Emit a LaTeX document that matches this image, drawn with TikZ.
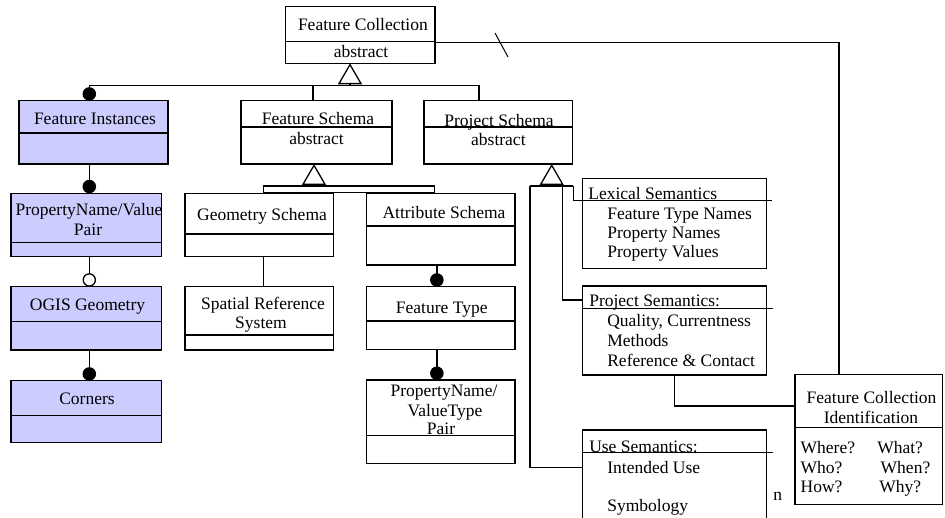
\documentclass[tikz,border=0pt]{standalone}
\usepackage{fontspec}
\setmainfont{Liberation Serif}
\usetikzlibrary{arrows.meta}
\definecolor{instfill}{RGB}{204,204,255}
% horizontal rule across a class box, #2 pt below its top edge
\newcommand\cbdiv[2]{\draw[wire] ([yshift=-#2pt]#1.north west) -- ([yshift=-#2pt]#1.north east);}
\begin{document}
\begin{tikzpicture}[x=1pt,y=-1pt,
  every node/.style={font=\fontsize{17.5}{20}\selectfont},
  wire/.style={line width=1.3pt, line join=miter},
  umlbox/.style={draw, line width=1.3pt, inner sep=0pt, outer sep=0pt, anchor=north west},
  inst/.style={umlbox, fill=instfill},
  lbl/.style={inner sep=0pt, outer sep=0pt, anchor=base},
  lbll/.style={inner sep=0pt, outer sep=0pt, anchor=base west},
  dot/.style={-{Circle[length=13.5pt]}},
  ring/.style={-{Circle[open,length=13.5pt]}},
  gen/.style={-{Triangle[open,length=21pt,width=24pt]}},
]
\useasboundingbox (0,0) rectangle (945,518);
\fill[white] (0,0) rectangle (945,518);
\clip (0,0) rectangle (945,518);

% ---- class boxes ----
\node[umlbox, minimum width=149.3pt, minimum height=56.6pt] (fc) at (285.7,6.7) {};
\node[inst,   minimum width=149pt,   minimum height=63.3pt] (fi) at (19,100.7) {};
\node[umlbox, minimum width=151pt,   minimum height=63.3pt] (fs) at (241,100.7) {};
\node[umlbox, minimum width=148.7pt, minimum height=63.3pt] (ps) at (424,100.7) {};
\node[inst,   minimum width=150.7pt, minimum height=63.4pt] (pnvp) at (11,193.3) {};
\node[inst,   minimum width=150.7pt, minimum height=63.3pt] (ogis) at (11,286.7) {};
\node[inst,   minimum width=150.7pt, minimum height=62pt]   (corners) at (11,380.7) {};
\node[umlbox, minimum width=148.3pt, minimum height=63.4pt] (gs) at (185,193.3) {};
\node[umlbox, minimum width=148.3pt, minimum height=63.3pt] (srs) at (185,286.7) {};
\node[umlbox, minimum width=148.3pt, minimum height=71.7pt] (as) at (366.7,193.3) {};
\node[umlbox, minimum width=148.3pt, minimum height=62.6pt] (ft) at (366.7,286.7) {};
\node[umlbox, minimum width=148.3pt, minimum height=83.3pt] (pnvtp) at (366.7,380) {};
\node[umlbox, minimum width=184pt,   minimum height=90pt]   (lex) at (582.7,178.3) {};
\node[umlbox, minimum width=184pt,   minimum height=89pt]   (proj) at (582.7,286) {};
\node[umlbox, minimum width=184pt,   minimum height=100pt]  (use) at (582.7,430) {};
\node[umlbox, minimum width=147.7pt, minimum height=130pt]  (fci) at (795,374.3) {};

% ---- compartment rules ----
\cbdiv{fc}{35}
\cbdiv{fi}{32.3}
\cbdiv{fs}{26.3}
\cbdiv{ps}{26.3}
\cbdiv{pnvp}{49.4}
\cbdiv{ogis}{35}
\cbdiv{corners}{35}
\cbdiv{gs}{40.7}
\cbdiv{srs}{48.3}
\cbdiv{as}{32.7}
\cbdiv{ft}{34.3}
\cbdiv{pnvtp}{55.7}
\cbdiv{fci}{53.4}

% ---- labels ----
\node[lbll] (fc-a) at (298,30.5) {Feature Collection};
\node[lbl]  (fc-b) at (361,58) {abstract};
\node[lbl]  (fi-a) at (95,124.5) {Feature Instances};
\node[lbl]  (fs-a) at (318,125) {Feature Schema};
\node[lbl]  (fs-b) at (316.5,144.5) {abstract};
\node[lbl]  (ps-a) at (499,126.5) {Project Schema};
\node[lbl]  (ps-b) at (498.4,146) {abstract};
\node[lbl]  (pnvp-a) at (89,216) {PropertyName/Value};
\node[lbl]  (pnvp-b) at (88,236) {Pair};
\node[lbl]  (ogis-a) at (87.5,311) {OGIS Geometry};
\node[lbl]  (corners-a) at (87,405) {Corners};
\node[lbl]  (gs-a) at (262,221) {Geometry Schema};
\node[lbl]  (srs-a) at (263,310) {Spatial Reference};
\node[lbl]  (srs-b) at (261,329) {System};
\node[lbl]  (as-a) at (444,219) {Attribute Schema};
\node[lbl]  (ft-a) at (441.7,314) {Feature Type};
\node[lbl]  (pnvtp-a) at (444,397) {PropertyName/};
\node[lbl]  (pnvtp-b) at (445,417) {ValueType};
\node[lbl]  (pnvtp-c) at (441,434) {Pair};

\node[lbll] (lex-a) at (588.3,199.5) {Lexical Semantics};
\node[lbll] (lex-b) at (607.3,220) {Feature Type Names};
\node[lbll] (lex-c) at (607.3,239) {Property Names};
\node[lbll] (lex-d) at (607.3,258) {Property Values};

\node[lbll] (proj-a) at (589.3,307) {Project Semantics:};
\node[lbll] (proj-b) at (607.3,326.5) {Quality, Currentness};
\node[lbll] (proj-c) at (607.3,346.5) {Methods};
\node[lbll] (proj-d) at (607.3,366.5) {Reference \& Contact};

\node[lbll] (use-a) at (589.3,452) {Use Semantics:};
\node[lbll] (use-b) at (607.3,473) {Intended Use};
\node[lbll] (use-c) at (607.3,511) {Symbology};
\node[lbll] (use-n) at (773.3,500) {n};

\node[lbll] (fci-a) at (806.7,403) {Feature Collection};
\node[lbl]  (fci-b) at (871,423) {Identification};
\node[lbll] (fci-c) at (800.7,453) {Where?};
\node[lbll] (fci-d) at (877.3,453) {What?};
\node[lbll] (fci-e) at (800.7,473) {Who?};
\node[lbll] (fci-f) at (880.7,473) {When?};
\node[lbll] (fci-g) at (800.7,492.5) {How?};
\node[lbll] (fci-h) at (879.3,492.5) {Why?};

% ---- junction points ----
\coordinate (trunk) at (350,85.5);
\coordinate (busL)  at (89.3,85.5);
\coordinate (busFS) at (313,85.5);
\coordinate (busR)  at (479,85.5);
\coordinate (barNW) at (263.3,186);
\coordinate (barSE) at (434.3,192.3);
\coordinate (fsgen) at (314,186);
\coordinate (psgen) at (551.7,186);
\coordinate (psL)   at (530,186);
\coordinate (psM)   at (562.7,186);
\coordinate (psR)   at (573.3,186);
\coordinate (lexrule) at (771.7,200.7);
\coordinate (tickA) at (495,33);
\coordinate (tickB) at (508,57);

% ---- Feature Collection hierarchy ----
\draw[wire, gen] (trunk) -- (trunk |- fc.south);
\draw[wire] (busL) -- (busR);
\draw[wire, dot] (busL) -- (busL |- fi.north);
\draw[wire] (busFS) -- (busFS |- fs.north);
\draw[wire] (busR) -- (busR |- ps.north);

% ---- instance chain ----
\draw[wire, dot]  (busL |- fi.south) -- (busL |- pnvp.north);
\draw[wire, ring] (busL |- pnvp.south) -- (busL |- ogis.north);
\draw[wire, dot]  (busL |- ogis.south) -- (busL |- corners.north);

% ---- feature schema ----
\draw[wire] (barNW) rectangle (barSE);
\draw[wire, gen] (fsgen) -- (fsgen |- fs.south);
\draw[wire] ([xshift=4pt]gs.south) -- ([xshift=4pt]srs.north);
\draw[wire, dot] ([xshift=-4pt]as.south) -- ([xshift=-4pt]ft.north);
\draw[wire, dot] ([xshift=-4pt]ft.south) -- ([xshift=-4pt]pnvtp.north);

% ---- project schema ----
\draw[wire, gen] (psgen) -- (psgen |- ps.south);
\draw[wire] (psL) -- (psR);
\draw[wire] (psR) |- (lexrule);
\draw[wire] (psM) |- ([yshift=-14pt]proj.north west);
\draw[wire] ([yshift=-22.3pt]proj.north west) -- ++(190.6,0);
\draw[wire] (psL) |- ([yshift=-37.7pt]use.north west);
\draw[wire] ([yshift=-22.7pt]use.north west) -- ++(190.6,0);

% ---- identification links ----
\draw[wire] (proj.south) |- ([yshift=-31.7pt]fci.north west);
\draw[wire] ([yshift=-36pt]fc.north east) -| ([xshift=-30pt]fci.north);
\draw[line width=1pt] (tickA) -- (tickB);
\end{tikzpicture}
\end{document}
